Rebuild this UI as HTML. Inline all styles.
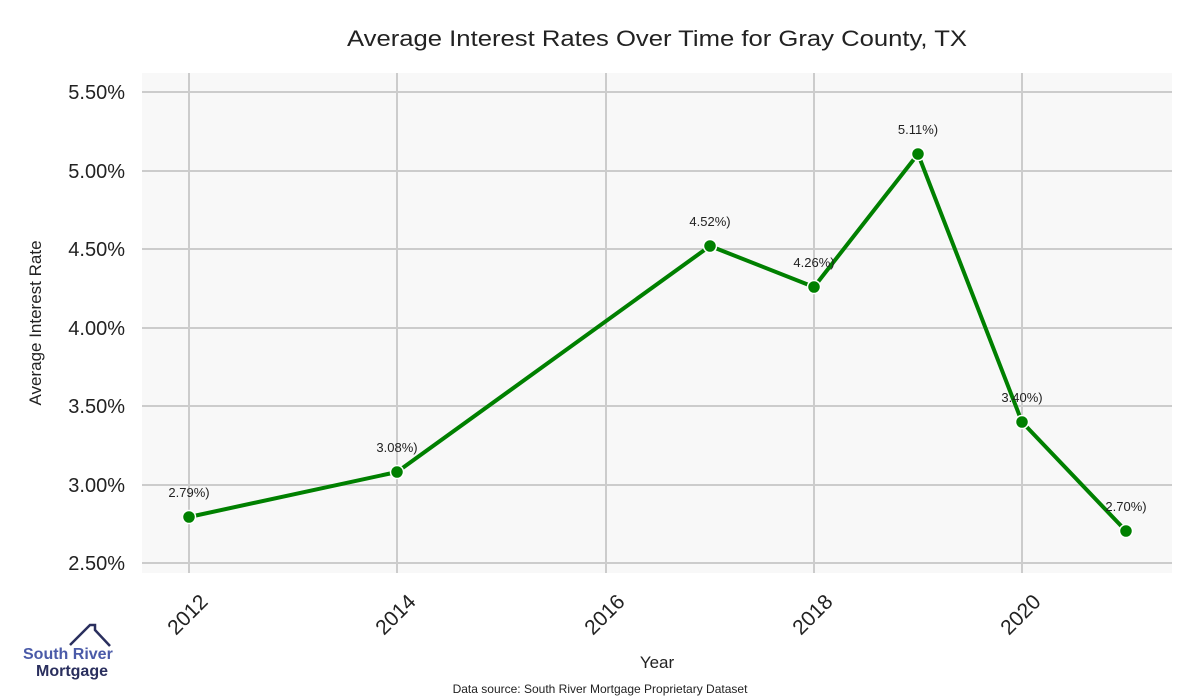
<!DOCTYPE html>
<html><head><meta charset="utf-8"><style>
body{margin:0;background:#fff;}
svg{display:block;font-family:"Liberation Sans",sans-serif;}
</style></head><body>
<svg width="1200" height="700" viewBox="0 0 1200 700">
<rect x="142" y="73" width="1030" height="500" fill="#f8f8f8"/>
<g stroke="#cccccc" stroke-width="2">
<line x1="142" x2="1172" y1="92" y2="92"/><line x1="142" x2="1172" y1="171" y2="171"/>
<line x1="142" x2="1172" y1="249" y2="249"/><line x1="142" x2="1172" y1="328" y2="328"/>
<line x1="142" x2="1172" y1="406" y2="406"/><line x1="142" x2="1172" y1="485" y2="485"/>
<line x1="142" x2="1172" y1="563" y2="563"/>
<line x1="189" x2="189" y1="73" y2="573"/><line x1="397" x2="397" y1="73" y2="573"/>
<line x1="606" x2="606" y1="73" y2="573"/><line x1="814" x2="814" y1="73" y2="573"/>
<line x1="1022" x2="1022" y1="73" y2="573"/>
</g>
<text x="657" y="46" font-size="22" text-anchor="middle" fill="#222" textLength="620" lengthAdjust="spacingAndGlyphs">Average Interest Rates Over Time for Gray County, TX</text>
<g font-size="20" fill="#222" text-anchor="end">
<text x="125" y="99">5.50%</text><text x="125" y="178">5.00%</text><text x="125" y="256">4.50%</text>
<text x="125" y="335">4.00%</text><text x="125" y="413">3.50%</text><text x="125" y="492">3.00%</text>
<text x="125" y="570">2.50%</text>
</g>
<text transform="translate(41,323) rotate(-90)" font-size="17" text-anchor="middle" fill="#222">Average Interest Rate</text>
<g font-size="21" fill="#222" text-anchor="end">
<text transform="translate(209,603) rotate(-45)">2012</text>
<text transform="translate(417,603) rotate(-45)">2014</text>
<text transform="translate(626,603) rotate(-45)">2016</text>
<text transform="translate(834,603) rotate(-45)">2018</text>
<text transform="translate(1042,603) rotate(-45)">2020</text>
</g>
<text x="657" y="668" font-size="17" text-anchor="middle" fill="#222">Year</text>
<text x="600" y="693" font-size="12" text-anchor="middle" fill="#222">Data source: South River Mortgage Proprietary Dataset</text>
<polyline fill="none" stroke="#008000" stroke-width="4" stroke-linejoin="round" points="189,517 397,472 710,246 814,287 918,154 1022,422 1126,531"/>
<g fill="#008000" stroke="#fff" stroke-width="1.5">
<circle cx="189" cy="517" r="6.5"/><circle cx="397" cy="472" r="6.5"/><circle cx="710" cy="246" r="6.5"/>
<circle cx="814" cy="287" r="6.5"/><circle cx="918" cy="154" r="6.5"/><circle cx="1022" cy="422" r="6.5"/>
<circle cx="1126" cy="531" r="6.5"/>
</g>
<g font-size="13" fill="#222" text-anchor="middle">
<text x="189" y="497">2.79%)</text><text x="397" y="452">3.08%)</text><text x="710" y="226">4.52%)</text>
<text x="814" y="267">4.26%)</text><text x="918" y="134">5.11%)</text><text x="1022" y="402">3.40%)</text>
<text x="1126" y="511">2.70%)</text>
</g>
<polyline points="70,645 90,625 95,625 95,630 110,646" fill="none" stroke="#2a2f5e" stroke-width="2.5"/>
<text x="23" y="659" font-size="16" font-weight="bold" fill="#4a5aa8">South River</text>
<text x="36" y="676" font-size="16" font-weight="bold" fill="#2a2f5e">Mortgage</text>
</svg>
</body></html>
